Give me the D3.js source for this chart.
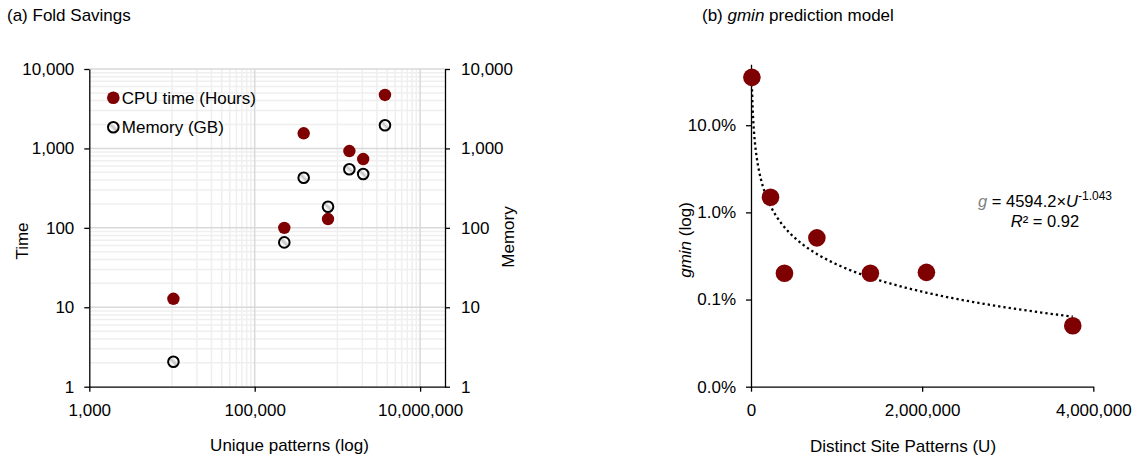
<!DOCTYPE html>
<html>
<head>
<meta charset="utf-8">
<script src="https://cdn.jsdelivr.net/npm/d3@7"></script>
<style>
  html, body { margin: 0; padding: 0; background: #fff; }
  svg { display: block; font-family: "Liberation Sans", Arial, sans-serif; }
</style>
</head>
<body>
<svg id="chart" width="1141" height="459"></svg>
<script>
// Unique site patterns per dataset (shared by both panels)
const patterns = [10400, 228000, 391000, 770000, 1395000, 2050000, 3760000];
// Panel (a): fold savings
const cpuHours = [12.8, 100, 1550, 129, 927, 735, 4710];
const memoryGB = [2.06, 65.6, 428, 184, 546, 476, 1954];
// Panel (b): minimum gmin per dataset
const gmin = [0.354, 0.0149, 0.002, 0.0051, 0.002, 0.00205, 0.0005];
// Fitted power law g = a * U^b
const fitA = 4594.2, fitB = -1.043, fitR2 = 0.92;

const leftTicksY = [1, 10, 100, 1000, 10000];
const leftTicksX = [1000, 100000, 10000000];
const rightTicksY = [0.0001, 0.001, 0.01, 0.1];
const rightTicksX = [0, 2000000, 4000000];

const RED = "#7f0000";
const svg = d3.select("#chart");
const FS = 17;

// Shaded fill for the memory markers
const defs = svg.append("defs");
const grad = defs.append("linearGradient").attr("id", "memFill")
  .attr("x1", 1).attr("y1", 0).attr("x2", 0).attr("y2", 1);
[[0, "#ffffff"], [0.3, "#ffffff"], [0.5, "#c4c4c4"], [0.7, "#ffffff"], [1, "#ffffff"]]
  .forEach(([o, c]) => grad.append("stop").attr("offset", o).attr("stop-color", c));

// ---------- Panel (a) ----------
const ax = d3.scaleLog().domain([1000, 2e7]).range([89.3, 445]);
const ay = d3.scaleLog().domain([1, 10000]).range([386.7, 69]);
const gA = svg.append("g");

// minor gridlines
const minorY = [];
for (let e = 0; e < 4; e++) for (let k = 2; k <= 9; k++) minorY.push(k * Math.pow(10, e));
const minorX = [];
[10000, 1000000].forEach(b => { for (let k = 1; k <= 9; k++) minorX.push(k * b); });
gA.append("g").selectAll("line").data(minorY).join("line")
  .attr("x1", ax.range()[0]).attr("x2", ax.range()[1])
  .attr("y1", d => ay(d)).attr("y2", d => ay(d))
  .attr("stroke", "#efefef").attr("stroke-width", 1.5);
gA.append("g").selectAll("line").data(minorX).join("line")
  .attr("y1", ay.range()[0]).attr("y2", ay.range()[1])
  .attr("x1", d => ax(d)).attr("x2", d => ax(d))
  .attr("stroke", "#efefef").attr("stroke-width", 1.5);
// major gridlines
gA.append("g").selectAll("line").data(leftTicksY.slice(1)).join("line")
  .attr("x1", ax.range()[0]).attr("x2", ax.range()[1])
  .attr("y1", d => ay(d)).attr("y2", d => ay(d))
  .attr("stroke", "#d9d9d9").attr("stroke-width", 1.5);
gA.append("g").selectAll("line").data(leftTicksX.slice(1)).join("line")
  .attr("y1", ay.range()[0]).attr("y2", ay.range()[1])
  .attr("x1", d => ax(d)).attr("x2", d => ax(d))
  .attr("stroke", "#d9d9d9").attr("stroke-width", 1.5);

function styleAxis(g) {
  g.select(".domain").attr("stroke", "#000").attr("stroke-width", 1.3);
  g.selectAll(".tick line").attr("stroke", "#000").attr("stroke-width", 1.3);
  g.selectAll(".tick text").attr("fill", "#000").style("font-size", FS + "px")
    .style("font-family", '"Liberation Sans", Arial, sans-serif');
}

gA.append("g").attr("transform", `translate(0,${ay.range()[0]})`)
  .call(d3.axisBottom(ax).tickValues(leftTicksX).tickFormat(d3.format(",")).tickSize(5).tickSizeOuter(0).tickPadding(12))
  .call(styleAxis);
gA.append("g").attr("transform", `translate(${ax.range()[0]},0)`)
  .call(d3.axisLeft(ay).tickValues(leftTicksY).tickFormat(d3.format(",")).tickSize(5).tickSizeOuter(0).tickPadding(10))
  .call(styleAxis);
gA.append("g").attr("transform", `translate(${ax.range()[1]},0)`)
  .call(d3.axisRight(ay).tickValues(leftTicksY).tickFormat(d3.format(",")).tickSize(5).tickSizeOuter(0).tickPadding(11))
  .call(styleAxis);

// data points
gA.append("g").selectAll("circle").data(patterns).join("circle")
  .attr("cx", d => ax(d)).attr("cy", (d, i) => ay(memoryGB[i])).attr("r", 5.3)
  .attr("fill", "url(#memFill)").attr("stroke", "#000").attr("stroke-width", 2);
gA.append("g").selectAll("circle").data(patterns).join("circle")
  .attr("cx", d => ax(d)).attr("cy", (d, i) => ay(cpuHours[i])).attr("r", 6.2)
  .attr("fill", RED);

// legend
const leg = gA.append("g").attr("transform", "translate(113.3,97.7)");
leg.append("circle").attr("r", 6.3).attr("fill", RED);
leg.append("text").attr("x", 8.5).attr("y", 6).attr("font-size", FS).text("CPU time (Hours)");
leg.append("circle").attr("cy", 29.6).attr("r", 5.3).attr("fill", "url(#memFill)")
  .attr("stroke", "#000").attr("stroke-width", 2);
leg.append("text").attr("x", 8.5).attr("y", 35.6).attr("font-size", FS).text("Memory (GB)");

// titles
svg.append("text").attr("x", 7).attr("y", 21).attr("font-size", FS).text("(a) Fold Savings");
svg.append("text").attr("x", 289.5).attr("y", 451).attr("text-anchor", "middle")
  .attr("font-size", FS).text("Unique patterns (log)");
svg.append("text").attr("transform", "translate(28,241) rotate(-90)").attr("text-anchor", "middle")
  .attr("font-size", FS).text("Time");
svg.append("text").attr("transform", "translate(514,237) rotate(-90)").attr("text-anchor", "middle")
  .attr("font-size", FS).text("Memory");

// ---------- Panel (b) ----------
const bx = d3.scaleLinear().domain([0, 4000000]).range([751, 1093.3]);
const by = d3.scaleLog().domain([0.0001, 0.5]).range([386.7, 64.3]);
const gB = svg.append("g");

gB.append("g").attr("transform", `translate(0,${by.range()[0]})`)
  .call(d3.axisBottom(bx).tickValues(rightTicksX).tickFormat(d3.format(",")).tickSize(5).tickSizeOuter(0).tickPadding(12))
  .call(styleAxis);
gB.append("g").attr("transform", `translate(${bx.range()[0]},0)`)
  .call(d3.axisLeft(by).tickValues(rightTicksY).tickFormat(d3.format(".1%")).tickSize(5).tickSizeOuter(0).tickPadding(10))
  .call(styleAxis);

// power-law trend line, evaluated across the observed range of U
const uMin = d3.min(patterns), uMax = d3.max(patterns);
const trendU = d3.range(0, 401).map(i => uMin * Math.pow(uMax / uMin, i / 400));
gB.append("path")
  .datum(trendU)
  .attr("d", d3.line().x(u => bx(u)).y(u => by(fitA * Math.pow(u, fitB))))
  .attr("fill", "none").attr("stroke", "#000").attr("stroke-width", 2.3)
  .attr("stroke-dasharray", "2.3 3");

gB.append("g").selectAll("circle").data(patterns).join("circle")
  .attr("cx", d => bx(d)).attr("cy", (d, i) => by(gmin[i])).attr("r", 8.8)
  .attr("fill", RED);

// equation label
const eq = svg.append("text").attr("x", 1045).attr("y", 206.5).attr("text-anchor", "middle").attr("font-size", 16.5);
eq.append("tspan").attr("font-style", "italic").attr("fill", "#7f7f7f").text("g");
eq.append("tspan").text(" = " + fitA.toFixed(1) + "\u00d7");
eq.append("tspan").attr("font-style", "italic").text("U");
eq.append("tspan").attr("font-size", 12).attr("dy", -7).text(fitB.toFixed(3));
const r2 = svg.append("text").attr("x", 1045).attr("y", 227).attr("text-anchor", "middle").attr("font-size", 16.5);
r2.append("tspan").attr("font-style", "italic").text("R");
r2.append("tspan").text("\u00b2 = " + fitR2.toFixed(2));

// titles
const tb = svg.append("text").attr("x", 702).attr("y", 20.5).attr("font-size", FS);
tb.append("tspan").text("(b) ");
tb.append("tspan").attr("font-style", "italic").text("gmin");
tb.append("tspan").text(" prediction model");
svg.append("text").attr("x", 903).attr("y", 452).attr("text-anchor", "middle")
  .attr("font-size", FS).text("Distinct Site Patterns (U)");
const yl = svg.append("text").attr("transform", "translate(691,240) rotate(-90)").attr("text-anchor", "middle")
  .attr("font-size", FS);
yl.append("tspan").attr("font-style", "italic").text("gmin");
yl.append("tspan").text(" (log)");
</script>
</body>
</html>
